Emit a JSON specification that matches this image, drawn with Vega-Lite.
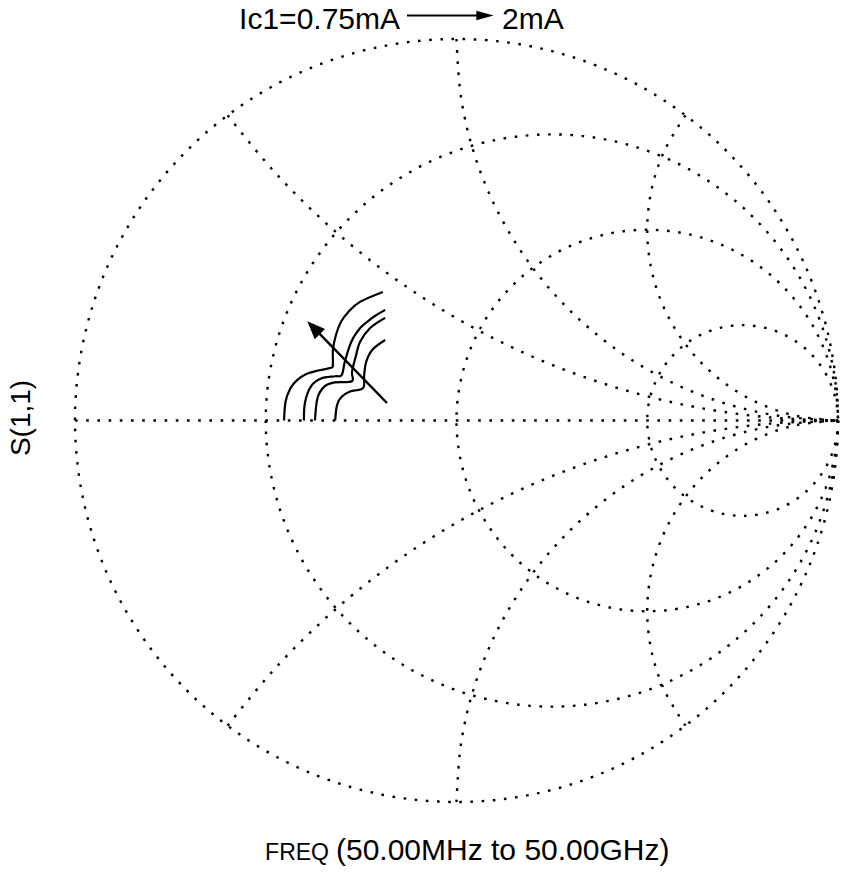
{
  "$schema": "https://vega.github.io/schema/vega-lite/v6.json",
  "width": 844,
  "height": 874,
  "autosize": {"type": "none"},
  "padding": 0,
  "background": "white",
  "config": {"view": {"stroke": null}},
  "datasets": {
    "circles": [
      {"r": "0", "cx": 0, "cy": 0, "rho": 1},
      {"r": "1/3", "cx": 0.25, "cy": 0, "rho": 0.75},
      {"r": "1", "cx": 0.5, "cy": 0, "rho": 0.5},
      {"r": "3", "cx": 0.75, "cy": 0, "rho": 0.25}
    ],
    "grid": [
      {"g": "axis", "i": 0, "re": -1, "im": 0},
      {"g": "axis", "i": 1, "re": 1, "im": 0},
      {"g": "x=1", "i": 0, "re": 0, "im": 1},
      {"g": "x=1", "i": 1, "re": 0.01231, "im": 0.84357},
      {"g": "x=1", "i": 2, "re": 0.04894, "im": 0.69098},
      {"g": "x=1", "i": 3, "re": 0.10899, "im": 0.54601},
      {"g": "x=1", "i": 4, "re": 0.19098, "im": 0.41221},
      {"g": "x=1", "i": 5, "re": 0.29289, "im": 0.29289},
      {"g": "x=1", "i": 6, "re": 0.41221, "im": 0.19098},
      {"g": "x=1", "i": 7, "re": 0.54601, "im": 0.10899},
      {"g": "x=1", "i": 8, "re": 0.69098, "im": 0.04894},
      {"g": "x=1", "i": 9, "re": 0.84357, "im": 0.01231},
      {"g": "x=1", "i": 10, "re": 1, "im": 0},
      {"g": "x=-1", "i": 0, "re": 0, "im": -1},
      {"g": "x=-1", "i": 1, "re": 0.01231, "im": -0.84357},
      {"g": "x=-1", "i": 2, "re": 0.04894, "im": -0.69098},
      {"g": "x=-1", "i": 3, "re": 0.10899, "im": -0.54601},
      {"g": "x=-1", "i": 4, "re": 0.19098, "im": -0.41221},
      {"g": "x=-1", "i": 5, "re": 0.29289, "im": -0.29289},
      {"g": "x=-1", "i": 6, "re": 0.41221, "im": -0.19098},
      {"g": "x=-1", "i": 7, "re": 0.54601, "im": -0.10899},
      {"g": "x=-1", "i": 8, "re": 0.69098, "im": -0.04894},
      {"g": "x=-1", "i": 9, "re": 0.84357, "im": -0.01231},
      {"g": "x=-1", "i": 10, "re": 1, "im": 0},
      {"g": "x=2", "i": 0, "re": 0.6, "im": 0.8},
      {"g": "x=2", "i": 1, "re": 0.54388, "im": 0.70483},
      {"g": "x=2", "i": 2, "re": 0.51003, "im": 0.59965},
      {"g": "x=2", "i": 3, "re": 0.50011, "im": 0.48961},
      {"g": "x=2", "i": 4, "re": 0.5146, "im": 0.38007},
      {"g": "x=2", "i": 5, "re": 0.55279, "im": 0.27639},
      {"g": "x=2", "i": 6, "re": 0.61281, "im": 0.18363},
      {"g": "x=2", "i": 7, "re": 0.69175, "im": 0.10632},
      {"g": "x=2", "i": 8, "re": 0.78573, "im": 0.04823},
      {"g": "x=2", "i": 9, "re": 0.89019, "im": 0.01221},
      {"g": "x=2", "i": 10, "re": 1, "im": 0},
      {"g": "x=-2", "i": 0, "re": 0.6, "im": -0.8},
      {"g": "x=-2", "i": 1, "re": 0.54388, "im": -0.70483},
      {"g": "x=-2", "i": 2, "re": 0.51003, "im": -0.59965},
      {"g": "x=-2", "i": 3, "re": 0.50011, "im": -0.48961},
      {"g": "x=-2", "i": 4, "re": 0.5146, "im": -0.38007},
      {"g": "x=-2", "i": 5, "re": 0.55279, "im": -0.27639},
      {"g": "x=-2", "i": 6, "re": 0.61281, "im": -0.18363},
      {"g": "x=-2", "i": 7, "re": 0.69175, "im": -0.10632},
      {"g": "x=-2", "i": 8, "re": 0.78573, "im": -0.04823},
      {"g": "x=-2", "i": 9, "re": 0.89019, "im": -0.01221},
      {"g": "x=-2", "i": 10, "re": 1, "im": 0},
      {"g": "x=0.5", "i": 0, "re": -0.6, "im": 0.8},
      {"g": "x=0.5", "i": 1, "re": -0.482, "im": 0.657},
      {"g": "x=0.5", "i": 2, "re": -0.35128, "im": 0.52554},
      {"g": "x=0.5", "i": 3, "re": -0.20896, "im": 0.40674},
      {"g": "x=0.5", "i": 4, "re": -0.05622, "im": 0.30164},
      {"g": "x=0.5", "i": 5, "re": 0.10557, "im": 0.21115},
      {"g": "x=0.5", "i": 6, "re": 0.27504, "im": 0.136},
      {"g": "x=0.5", "i": 7, "re": 0.45076, "im": 0.0769},
      {"g": "x=0.5", "i": 8, "re": 0.6312, "im": 0.03428},
      {"g": "x=0.5", "i": 9, "re": 0.8148, "im": 0.0086},
      {"g": "x=0.5", "i": 10, "re": 1, "im": 0},
      {"g": "x=-0.5", "i": 0, "re": -0.6, "im": -0.8},
      {"g": "x=-0.5", "i": 1, "re": -0.482, "im": -0.657},
      {"g": "x=-0.5", "i": 2, "re": -0.35128, "im": -0.52554},
      {"g": "x=-0.5", "i": 3, "re": -0.20896, "im": -0.40674},
      {"g": "x=-0.5", "i": 4, "re": -0.05622, "im": -0.30164},
      {"g": "x=-0.5", "i": 5, "re": 0.10557, "im": -0.21115},
      {"g": "x=-0.5", "i": 6, "re": 0.27504, "im": -0.136},
      {"g": "x=-0.5", "i": 7, "re": 0.45076, "im": -0.0769},
      {"g": "x=-0.5", "i": 8, "re": 0.6312, "im": -0.03428},
      {"g": "x=-0.5", "i": 9, "re": 0.8148, "im": -0.0086},
      {"g": "x=-0.5", "i": 10, "re": 1, "im": 0}
    ],
    "traces": [
      {"trace": "0.75mA", "i": 0, "re": -0.452, "im": 0.0},
      {"trace": "0.75mA", "i": 1, "re": -0.448, "im": 0.05},
      {"trace": "0.75mA", "i": 2, "re": -0.436, "im": 0.083},
      {"trace": "0.75mA", "i": 3, "re": -0.42, "im": 0.104},
      {"trace": "0.75mA", "i": 4, "re": -0.395, "im": 0.121},
      {"trace": "0.75mA", "i": 5, "re": -0.363, "im": 0.131},
      {"trace": "0.75mA", "i": 6, "re": -0.329, "im": 0.138},
      {"trace": "0.75mA", "i": 7, "re": -0.324, "im": 0.147},
      {"trace": "0.75mA", "i": 8, "re": -0.324, "im": 0.185},
      {"trace": "0.75mA", "i": 9, "re": -0.316, "im": 0.224},
      {"trace": "0.75mA", "i": 10, "re": -0.303, "im": 0.258},
      {"trace": "0.75mA", "i": 11, "re": -0.283, "im": 0.285},
      {"trace": "0.75mA", "i": 12, "re": -0.253, "im": 0.311},
      {"trace": "0.75mA", "i": 13, "re": -0.193, "im": 0.337},
      {"trace": "b", "i": 0, "re": -0.4, "im": 0.0},
      {"trace": "b", "i": 1, "re": -0.397, "im": 0.048},
      {"trace": "b", "i": 2, "re": -0.381, "im": 0.09},
      {"trace": "b", "i": 3, "re": -0.355, "im": 0.11},
      {"trace": "b", "i": 4, "re": -0.318, "im": 0.116},
      {"trace": "b", "i": 5, "re": -0.301, "im": 0.119},
      {"trace": "b", "i": 6, "re": -0.293, "im": 0.153},
      {"trace": "b", "i": 7, "re": -0.282, "im": 0.19},
      {"trace": "b", "i": 8, "re": -0.271, "im": 0.216},
      {"trace": "b", "i": 9, "re": -0.253, "im": 0.242},
      {"trace": "b", "i": 10, "re": -0.235, "im": 0.258},
      {"trace": "b", "i": 11, "re": -0.214, "im": 0.274},
      {"trace": "b", "i": 12, "re": -0.187, "im": 0.29},
      {"trace": "c", "i": 0, "re": -0.371, "im": 0.0},
      {"trace": "c", "i": 1, "re": -0.364, "im": 0.06},
      {"trace": "c", "i": 2, "re": -0.345, "im": 0.09},
      {"trace": "c", "i": 3, "re": -0.318, "im": 0.1},
      {"trace": "c", "i": 4, "re": -0.274, "im": 0.103},
      {"trace": "c", "i": 5, "re": -0.274, "im": 0.127},
      {"trace": "c", "i": 6, "re": -0.263, "im": 0.172},
      {"trace": "c", "i": 7, "re": -0.253, "im": 0.206},
      {"trace": "c", "i": 8, "re": -0.227, "im": 0.242},
      {"trace": "c", "i": 9, "re": -0.187, "im": 0.269},
      {"trace": "2mA", "i": 0, "re": -0.318, "im": 0.0},
      {"trace": "2mA", "i": 1, "re": -0.313, "im": 0.041},
      {"trace": "2mA", "i": 2, "re": -0.301, "im": 0.062},
      {"trace": "2mA", "i": 3, "re": -0.279, "im": 0.076},
      {"trace": "2mA", "i": 4, "re": -0.245, "im": 0.085},
      {"trace": "2mA", "i": 5, "re": -0.242, "im": 0.119},
      {"trace": "2mA", "i": 6, "re": -0.237, "im": 0.153},
      {"trace": "2mA", "i": 7, "re": -0.221, "im": 0.185},
      {"trace": "2mA", "i": 8, "re": -0.187, "im": 0.211}
    ]
  },
  "layer": [
    {
      "data": {"name": "circles"},
      "mark": {"type": "point", "shape": "circle", "filled": false, "stroke": "black", "strokeWidth": 2.4, "strokeDash": [2.6, 8.6], "opacity": 1},
      "encoding": {
        "x": {"field": "cx", "type": "quantitative", "scale": {"domain": [-1.19659, 1.01573], "nice": false, "zero": false}, "axis": null},
        "y": {"field": "cy", "type": "quantitative", "scale": {"domain": [-1.18873, 1.10223], "nice": false, "zero": false}, "axis": null},
        "size": {"field": "rho", "type": "quantitative", "scale": {"type": "pow", "exponent": 2, "domain": [0, 1], "range": [0, 582169]}, "legend": null}
      }
    },
    {
      "data": {"name": "grid"},
      "mark": {"type": "line", "color": "black", "strokeWidth": 2.4, "strokeDash": [2.6, 8.6], "interpolate": "cardinal"},
      "encoding": {
        "x": {"field": "re", "type": "quantitative", "scale": {"domain": [-1.19659, 1.01573], "nice": false, "zero": false}, "axis": null},
        "y": {"field": "im", "type": "quantitative", "scale": {"domain": [-1.18873, 1.10223], "nice": false, "zero": false}, "axis": null},
        "detail": {"field": "g", "type": "nominal"},
        "order": {"field": "i", "type": "quantitative"}
      }
    },
    {
      "data": {"name": "traces"},
      "mark": {"type": "line", "color": "black", "strokeWidth": 2.2, "interpolate": "cardinal"},
      "encoding": {
        "x": {"field": "re", "type": "quantitative", "scale": {"domain": [-1.19659, 1.01573], "nice": false, "zero": false}, "axis": null},
        "y": {"field": "im", "type": "quantitative", "scale": {"domain": [-1.18873, 1.10223], "nice": false, "zero": false}, "axis": null},
        "detail": {"field": "trace", "type": "nominal"},
        "order": {"field": "i", "type": "quantitative"}
      }
    },
    {
      "data": {"values": [
        {"i": 0, "re": -0.1822, "im": 0.0459},
        {"i": 1, "re": -0.3746, "im": 0.2433}
      ]},
      "mark": {"type": "line", "color": "black", "strokeWidth": 2.4},
      "encoding": {
        "x": {"field": "re", "type": "quantitative", "scale": {"domain": [-1.19659, 1.01573], "nice": false, "zero": false}, "axis": null},
        "y": {"field": "im", "type": "quantitative", "scale": {"domain": [-1.18873, 1.10223], "nice": false, "zero": false}, "axis": null},
        "order": {"field": "i", "type": "quantitative"}
      }
    },
    {
      "data": {"values": [{"re": -0.3746, "im": 0.2433}]},
      "mark": {"type": "point", "shape": "M0,-1L0.8,1L-0.8,1Z", "filled": true, "color": "black", "opacity": 1, "size": 324, "angle": 315.7},
      "encoding": {
        "x": {"field": "re", "type": "quantitative", "scale": {"domain": [-1.19659, 1.01573], "nice": false, "zero": false}, "axis": null},
        "y": {"field": "im", "type": "quantitative", "scale": {"domain": [-1.18873, 1.10223], "nice": false, "zero": false}, "axis": null}
      }
    },
    {
      "data": {"values": [
        {"i": 0, "re": -0.1297, "im": 1.0616},
        {"i": 1, "re": 0.0747, "im": 1.0616}
      ]},
      "mark": {"type": "line", "color": "black", "strokeWidth": 1.8},
      "encoding": {
        "x": {"field": "re", "type": "quantitative", "scale": {"domain": [-1.19659, 1.01573], "nice": false, "zero": false}, "axis": null},
        "y": {"field": "im", "type": "quantitative", "scale": {"domain": [-1.18873, 1.10223], "nice": false, "zero": false}, "axis": null},
        "order": {"field": "i", "type": "quantitative"}
      }
    },
    {
      "data": {"values": [{"re": 0.0747, "im": 1.0616}]},
      "mark": {"type": "point", "shape": "M-1,-0.55L1,0L-1,0.55Z", "filled": true, "color": "black", "opacity": 1, "size": 300},
      "encoding": {
        "x": {"field": "re", "type": "quantitative", "scale": {"domain": [-1.19659, 1.01573], "nice": false, "zero": false}, "axis": null},
        "y": {"field": "im", "type": "quantitative", "scale": {"domain": [-1.18873, 1.10223], "nice": false, "zero": false}, "axis": null}
      }
    },
    {
      "data": {"values": [
        {"label": "Ic1=0.75mA", "re": -0.148, "im": 1.0254}
      ]},
      "mark": {"type": "text", "font": "Liberation Sans", "fontSize": 30, "align": "right", "baseline": "alphabetic", "color": "black"},
      "encoding": {
        "x": {"field": "re", "type": "quantitative", "scale": {"domain": [-1.19659, 1.01573], "nice": false, "zero": false}, "axis": null},
        "y": {"field": "im", "type": "quantitative", "scale": {"domain": [-1.18873, 1.10223], "nice": false, "zero": false}, "axis": null},
        "text": {"field": "label"}
      }
    },
    {
      "data": {"values": [
        {"label": "2mA", "re": 0.1193, "im": 1.0254},
        {"label": "(50.00MHz to 50.00GHz)", "re": -0.3159, "im": -1.152}
      ]},
      "mark": {"type": "text", "font": "Liberation Sans", "fontSize": 30, "align": "left", "baseline": "alphabetic", "color": "black"},
      "encoding": {
        "x": {"field": "re", "type": "quantitative", "scale": {"domain": [-1.19659, 1.01573], "nice": false, "zero": false}, "axis": null},
        "y": {"field": "im", "type": "quantitative", "scale": {"domain": [-1.18873, 1.10223], "nice": false, "zero": false}, "axis": null},
        "text": {"field": "label"}
      }
    },
    {
      "data": {"values": [
        {"label": "FREQ", "re": -0.3342, "im": -1.152}
      ]},
      "mark": {"type": "text", "font": "Liberation Sans", "fontSize": 23, "align": "right", "baseline": "alphabetic", "color": "black"},
      "encoding": {
        "x": {"field": "re", "type": "quantitative", "scale": {"domain": [-1.19659, 1.01573], "nice": false, "zero": false}, "axis": null},
        "y": {"field": "im", "type": "quantitative", "scale": {"domain": [-1.18873, 1.10223], "nice": false, "zero": false}, "axis": null},
        "text": {"field": "label"}
      }
    },
    {
      "data": {"values": [
        {"label": "S(1,1)", "re": -1.139, "im": 0.0066}
      ]},
      "mark": {"type": "text", "font": "Liberation Sans", "fontSize": 28, "align": "center", "baseline": "middle", "angle": 270, "color": "black"},
      "encoding": {
        "x": {"field": "re", "type": "quantitative", "scale": {"domain": [-1.19659, 1.01573], "nice": false, "zero": false}, "axis": null},
        "y": {"field": "im", "type": "quantitative", "scale": {"domain": [-1.18873, 1.10223], "nice": false, "zero": false}, "axis": null},
        "text": {"field": "label"}
      }
    }
  ]
}
